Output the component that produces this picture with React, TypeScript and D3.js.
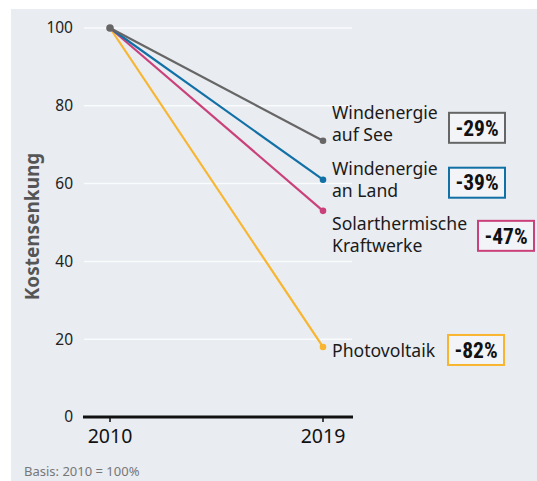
import React from "react";
import * as d3 from "d3";

const WIDTH = 537;
const HEIGHT = 481;

const years = [2010, 2019];
const names = ["Windenergie auf See", "Windenergie an Land", "Solarthermische Kraftwerke", "Photovoltaik"];
const labelLines = [["Windenergie", "auf See"], ["Windenergie", "an Land"], ["Solarthermische", "Kraftwerke"], ["Photovoltaik"]];
const startValues = [100, 100, 100, 100];
const endValues = [71, 61, 53, 18];
const changes = ["-29%", "-39%", "-47%", "-82%"];
const colors = ["#666666", "#1170a6", "#c9407a", "#f8b530"];
const yTicks = [0, 20, 40, 60, 80, 100];

// label layout relative to the end point
const textOffsetY = [-22, -5, 19, 10];
const boxOffsetY = [-13, 3, 25, 3];
const boxX = [449, 449, 478, 448];

const FONT = "'Noto Sans', 'Open Sans', sans-serif";

export default function App() {
  const x = d3.scaleLinear().domain([2010, 2019]).range([110, 323]);
  const y = d3.scaleLinear().domain([0, 100]).range([417, 28]);

  const line = d3
    .line<[number, number]>()
    .x((d) => x(d[0]))
    .y((d) => y(d[1]));

  // draw lines in reverse so gray sits on top
  const order = [3, 2, 1, 0];

  return (
    <svg width={WIDTH} height={HEIGHT} style={{ position: "absolute", left: 0, top: 0 }}>
      <rect x={11} y={9} width={WIDTH - 11} height={HEIGHT - 9} fill="#e9ecf1" />

      {yTicks.map((t) => (
        <g key={t}>
          {t > 0 && <line x1={84} x2={352} y1={y(t)} y2={y(t)} stroke="#fafbfc" strokeWidth={1.5} />}
          <text x={73} y={y(t)} dy="0.35em" textAnchor="end" fontFamily={FONT} fontSize={15.5} fill="#222">
            {t}
          </text>
        </g>
      ))}

      <text
        transform={`translate(39,${y(50) + 4}) rotate(-90)`}
        textAnchor="middle"
        fontFamily={FONT}
        fontWeight="bold"
        fontSize={19}
        fill="#555"
      >
        Kostensenkung
      </text>

      {order.map((i) => (
        <path
          key={names[i]}
          d={line([
            [years[0], startValues[i]],
            [years[1], endValues[i]],
          ]) || ""}
          fill="none"
          stroke={colors[i]}
          strokeWidth={2.2}
        />
      ))}
      {order.map((i) => (
        <circle key={names[i]} cx={x(years[1])} cy={y(endValues[i])} r={3.3} fill={colors[i]} />
      ))}
      <circle cx={x(years[0])} cy={y(100)} r={3.8} fill="#666" />

      <line x1={83} x2={353} y1={y(0)} y2={y(0)} stroke="#111" strokeWidth={3} />
      {years.map((yr) => (
        <g key={yr}>
          <line x1={x(yr)} x2={x(yr)} y1={y(0)} y2={y(0) + 5} stroke="#111" strokeWidth={1.5} />
          <text x={x(yr)} y={443} textAnchor="middle" fontFamily={FONT} fontSize={19.5} fill="#111">
            {yr}
          </text>
        </g>
      ))}

      {names.map((n, i) => {
        const py = y(endValues[i]);
        const ly = py + textOffsetY[i];
        const boxCy = py + boxOffsetY[i];
        return (
          <g key={n}>
            {labelLines[i].map((l, j) => (
              <text key={l} x={332} y={ly + j * 22.5} fontFamily={FONT} fontSize={17.6} fill="#1a1a1a">
                {l}
              </text>
            ))}
            <rect x={boxX[i]} y={boxCy - 15} width={56} height={30} fill="#f2f4f7" stroke={colors[i]} strokeWidth={2} />
            <text
              x={boxX[i] + 28}
              y={boxCy}
              dy="0.36em"
              textAnchor="middle"
              fontFamily="'Liberation Sans Narrow', 'Roboto Condensed', sans-serif"
              fontWeight="bold"
              fontSize={21.5}
              fill="#111"
            >
              {changes[i]}
            </text>
          </g>
        );
      })}

      <text x={24} y={476} fontFamily={FONT} fontSize={13} fill="#777">
        Basis: 2010 = 100%
      </text>
    </svg>
  );
}
